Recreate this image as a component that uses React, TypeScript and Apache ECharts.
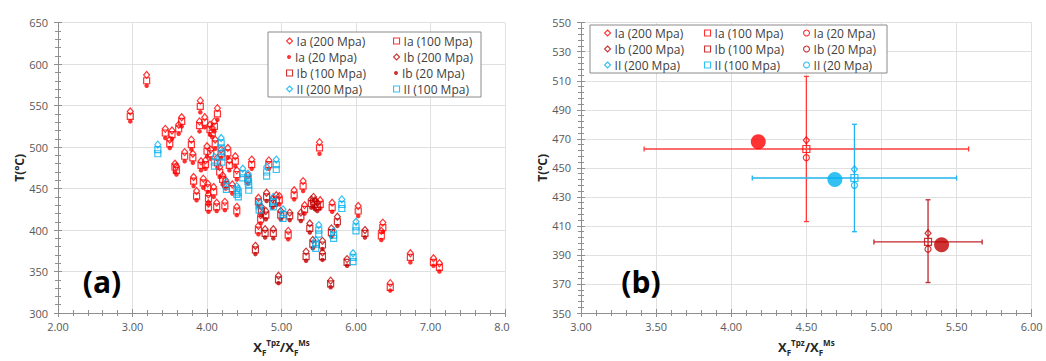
import React, { useEffect, useRef } from "react";
import * as echarts from "echarts";

// Each row: [X_F(Tpz)/X_F(Ms), T at 200 MPa, T at 100 MPa, T at 20 MPa]
type Row = [number, number, number, number];

const IA_ROWS: Row[] = [
  [2.97, 543, 537, 531], [3.19, 587, 580, 574], [3.44, 522, 517, 511], [3.5, 509, 504, 499],
  [3.53, 520, 515, 510], [3.57, 480, 476, 470], [3.59, 477, 472, 467], [3.62, 527, 522, 516],
  [3.66, 536, 531, 525], [3.7, 494, 489, 483], [3.79, 509, 503, 497], [3.81, 492, 487, 481],
  [3.82, 464, 459, 453], [3.86, 447, 441, 436], [3.9, 531, 526, 519], [3.91, 556, 549, 542],
  [3.92, 483, 478, 472], [3.95, 462, 457, 451], [3.97, 536, 530, 524], [3.98, 484, 479, 474],
  [4.0, 501, 495, 489], [4.01, 456, 451, 446], [4.02, 443, 438, 432], [4.02, 432, 427, 422],
  [4.04, 527, 521, 515], [4.05, 497, 492, 486], [4.07, 523, 517, 512], [4.09, 452, 446, 440],
  [4.1, 531, 525, 519], [4.11, 509, 504, 498], [4.13, 433, 428, 423], [4.14, 547, 540, 533],
  [4.14, 487, 481, 475], [4.17, 476, 470, 464], [4.19, 497, 492, 487], [4.21, 466, 461, 455],
  [4.24, 434, 429, 424], [4.25, 460, 455, 450], [4.28, 499, 493, 487], [4.3, 484, 478, 472],
  [4.34, 455, 450, 444], [4.38, 489, 483, 477], [4.4, 428, 423, 418], [4.4, 472, 467, 461],
  [4.55, 466, 461, 456], [4.6, 485, 479, 474], [4.69, 439, 434, 429], [4.69, 405, 400, 395],
  [4.72, 418, 413, 408], [4.83, 484, 479, 474], [4.93, 442, 436, 430], [4.97, 441, 436, 431],
  [5.09, 399, 394, 389], [5.17, 448, 442, 437], [5.29, 459, 453, 447], [5.31, 430, 425, 420],
  [5.51, 506, 499, 492], [5.52, 436, 431, 426], [5.68, 433, 427, 422], [6.03, 429, 423, 417],
  [6.34, 399, 393, 388], [6.36, 409, 403, 398], [6.46, 336, 331, 327], [6.73, 372, 367, 361],
  [7.04, 366, 361, 357], [7.12, 360, 355, 350],
];

const IB_ROWS: Row[] = [
  [4.65, 381, 376, 371], [4.73, 428, 423, 418], [4.78, 401, 396, 391], [4.8, 445, 440, 435],
  [4.79, 423, 418, 413], [4.89, 401, 396, 390], [4.88, 437, 432, 427], [4.96, 345, 340, 336],
  [4.99, 423, 418, 413], [5.11, 421, 417, 412], [5.26, 421, 416, 411], [5.33, 374, 368, 363],
  [5.38, 408, 402, 397], [5.4, 437, 432, 427], [5.42, 388, 383, 378], [5.43, 440, 434, 428],
  [5.45, 436, 431, 425], [5.48, 433, 428, 423], [5.55, 387, 382, 377], [5.55, 373, 368, 364],
  [5.66, 339, 335, 331], [5.67, 402, 397, 392], [5.75, 416, 410, 405], [5.88, 365, 361, 357],
  [6.12, 400, 396, 391],
];

const II_ROWS: Row[] = [
  [3.34, 503, 497, 492], [4.1, 488, 482, 477], [4.19, 511, 505, 499], [4.2, 494, 488, 482],
  [4.26, 458, 453, 449], [4.4, 453, 448, 443], [4.42, 450, 445, 440], [4.48, 474, 468, 463],
  [4.55, 468, 463, 458], [4.56, 460, 454, 448], [4.7, 434, 429, 424], [4.8, 476, 470, 465],
  [4.89, 440, 434, 428], [4.93, 485, 479, 473], [5.02, 425, 419, 414], [5.46, 388, 383, 378],
  [5.5, 406, 400, 395], [5.7, 399, 394, 390], [5.81, 437, 431, 426], [5.96, 372, 367, 362],
  [6.0, 410, 404, 399],
];

// Panel (b): group averages (order Ia, Ib, II)
const B_GROUPS = ["Ia", "Ib", "II"];
const B_X = [4.5, 5.31, 4.82];
const B_T200 = [469, 405, 449];
const B_T100 = [463, 399, 443];
const B_T20 = [457, 394, 438];
const B_X_LO = [3.42, 4.95, 4.14];
const B_X_HI = [5.58, 5.67, 5.5];
const B_T_LO = [413, 371, 406];
const B_T_HI = [513, 428, 480];
const B_MEAN_X = [4.18, 5.4, 4.69];
const B_MEAN_T = [468, 397, 442];

const A_X_TICKS = { min: 2, max: 8, interval: 1 };
const A_Y_TICKS = { min: 300, max: 650, interval: 50 };
const B_X_TICKS = { min: 3, max: 6, interval: 0.5 };
const B_Y_TICKS = { min: 350, max: 550, interval: 20 };

const RED = "#FF0000";
const DARK = "#C00000";
const BLUE = "#00B0F0";
const GROUP_COLORS = [RED, DARK, BLUE];
const ERR_COLORS = ["#FF3B3B", "#C0272D", "#1FB4EE"];
const FONT = '"Open Sans", "Liberation Sans", sans-serif';
const AXIS_COLOR = "#8F8F8F";
const GRID_COLOR = "#E0E0E0";

const hollow = (color: string) => ({ color: "transparent", borderColor: color, borderWidth: 1.2 });

function axes(
  dim: "x" | "y",
  gridIndex: number,
  t: { min: number; max: number; interval: number },
  fmt: (v: number) => string
) {
  const pos = dim === "x" ? "bottom" : "left";
  const main: any = {
    type: "value",
    gridIndex,
    position: pos,
    min: t.min,
    max: t.max,
    interval: t.interval,
    axisLine: { show: true, lineStyle: { color: AXIS_COLOR, width: 1 } },
    axisTick: { show: true, inside: false, length: 4, lineStyle: { color: AXIS_COLOR } },
    minorTick: { show: true, splitNumber: 5, length: 3, lineStyle: { color: AXIS_COLOR } },
    splitLine: { show: true, lineStyle: { color: GRID_COLOR, width: 1 } },
    axisLabel: {
      color: "#595959",
      fontSize: 11,
      fontFamily: FONT,
      margin: dim === "x" ? 8 : 10,
      formatter: fmt,
    },
  };
  if (dim === "y") {
    Object.assign(main, {
      name: "T(°C)",
      nameLocation: "middle",
      nameGap: 32,
      nameTextStyle: { fontSize: 12, fontWeight: "bold", fontFamily: FONT, color: "#262626" },
    });
  } else {
    Object.assign(main, {
      name: "{x|X}{sub|F}{sup|Tpz}{x|/X}{sub|F}{sup|Ms}",
      nameLocation: "middle",
      nameGap: 25,
      nameTextStyle: {
        rich: {
          x: { fontSize: 13, fontWeight: "bold", fontFamily: FONT, color: "#262626", lineHeight: 18 },
          sub: { fontSize: 8, fontWeight: "bold", fontFamily: FONT, color: "#262626", lineHeight: 8, verticalAlign: "bottom" },
          sup: { fontSize: 8, fontWeight: "bold", fontFamily: FONT, color: "#262626", lineHeight: 8, verticalAlign: "top" },
        },
      },
    });
  }
  // companion axis: inner half of the crossing tick marks
  const cross: any = {
    type: "value",
    gridIndex,
    position: pos,
    min: t.min,
    max: t.max,
    interval: t.interval,
    axisLine: { show: false },
    axisTick: { show: true, inside: true, length: 4, lineStyle: { color: AXIS_COLOR } },
    minorTick: { show: true, splitNumber: 5, length: 3, lineStyle: { color: AXIS_COLOR } },
    splitLine: { show: false },
    axisLabel: { show: false },
  };
  return [main, cross];
}

const PRESSURES = ["200", "100", "20"];

function scatterA(name: string, rows: Row[], col: number, symbol: string, size: any, style: any) {
  return {
    type: "scatter",
    name,
    xAxisIndex: 0,
    yAxisIndex: 0,
    symbol,
    symbolSize: size,
    itemStyle: style,
    data: rows.map((r) => [r[0], r[col]]),
    z: 3,
  };
}

export default function App() {
  const ref = useRef<HTMLDivElement>(null);

  useEffect(() => {
    document.body.style.margin = "0";
    if (!ref.current) return;
    const chart = echarts.init(ref.current, undefined, { renderer: "svg" });

    const fmt2 = (v: number) => v.toFixed(2);
    const fmt0 = (v: number) => String(v);
    const [ax, axc] = axes("x", 0, A_X_TICKS, fmt2);
    const [ay, ayc] = axes("y", 0, A_Y_TICKS, fmt0);
    const [bx, bxc] = axes("x", 1, B_X_TICKS, fmt2);
    const [by, byc] = axes("y", 1, B_Y_TICKS, fmt0);

    const seriesA = [
      scatterA("Ia (200 Mpa)", IA_ROWS, 1, "diamond", [6, 7], hollow(RED)),
      scatterA("Ia (100 Mpa)", IA_ROWS, 2, "rect", 6, hollow(RED)),
      scatterA("Ia (20 Mpa)", IA_ROWS, 3, "circle", 4.5, { color: RED }),
      scatterA("Ib (200 Mpa)", IB_ROWS, 1, "diamond", [6, 7], hollow(DARK)),
      scatterA("Ib (100 Mpa)", IB_ROWS, 2, "rect", 6, hollow(DARK)),
      scatterA("Ib (20 Mpa)", IB_ROWS, 3, "circle", 4.5, { color: DARK }),
      scatterA("II (200 Mpa)", II_ROWS, 1, "diamond", [6, 7], hollow(BLUE)),
      scatterA("II (100 Mpa)", II_ROWS, 2, "rect", 6, hollow(BLUE)),
      scatterA("II (20 Mpa)", II_ROWS, 3, "rect", 6, hollow(BLUE)),
    ];

    // Panel (b): error bars around the 100 MPa point of each group
    const errSeries = {
      type: "custom",
      xAxisIndex: 2,
      yAxisIndex: 2,
      z: 2,
      data: B_GROUPS.map((_, i) => [B_X[i], B_T100[i], B_X_LO[i], B_X_HI[i], B_T_LO[i], B_T_HI[i]]),
      renderItem: (params: any, api: any) => {
        const x = api.value(0), y = api.value(1);
        const l = api.coord([api.value(2), y]);
        const r = api.coord([api.value(3), y]);
        const b = api.coord([x, api.value(4)]);
        const t = api.coord([x, api.value(5)]);
        const cap = 2.5;
        const style = { stroke: ERR_COLORS[params.dataIndex], lineWidth: 1.3 };
        const seg = (x1: number, y1: number, x2: number, y2: number) => ({
          type: "line",
          shape: { x1, y1, x2, y2 },
          style,
        });
        return {
          type: "group",
          children: [
            seg(l[0], l[1], r[0], r[1]),
            seg(l[0], l[1] - cap, l[0], l[1] + cap),
            seg(r[0], r[1] - cap, r[0], r[1] + cap),
            seg(b[0], b[1], t[0], t[1]),
            seg(b[0] - cap, b[1], b[0] + cap, b[1]),
            seg(t[0] - cap, t[1], t[0] + cap, t[1]),
          ],
        };
      },
    };

    const seriesB: any[] = [errSeries];
    B_GROUPS.forEach((g, i) => {
      const c = GROUP_COLORS[i];
      const mk = (p: string, vals: number[], symbol: string, size: any) => ({
        type: "scatter",
        name: `b:${g} (${p} Mpa)`,
        xAxisIndex: 2,
        yAxisIndex: 2,
        symbol,
        symbolSize: size,
        itemStyle: hollow(c),
        data: [[B_X[i], vals[i]]],
        z: 3,
      });
      seriesB.push(mk("200", B_T200, "diamond", [6, 7]));
      seriesB.push(mk("100", B_T100, "rect", 7));
      seriesB.push(mk("20", B_T20, "circle", 6));
    });
    seriesB.push({
      type: "scatter",
      xAxisIndex: 2,
      yAxisIndex: 2,
      symbol: "circle",
      symbolSize: 15,
      z: 4,
      data: B_GROUPS.map((_, i) => ({ value: [B_MEAN_X[i], B_MEAN_T[i]], itemStyle: { color: GROUP_COLORS[i] } })),
    });

    // legend entries: one small legend per item, laid out on a fixed grid
    const legendItem = (name: string, cx: number, cy: number, strip: boolean) => {
      const dot = !strip && name.indexOf("(20 Mpa)") >= 0;
      const s = dot ? 4 : 6;
      return {
        data: [name],
        left: cx - s / 2,
        top: cy - 8,
        padding: 0,
        itemWidth: s,
        itemHeight: s,
        selectedMode: false,
        itemStyle: { borderWidth: dot ? 0 : 1.1 },
        formatter: strip ? (n: string) => n.slice(2) : undefined,
        textStyle: { fontSize: 12, fontFamily: FONT, color: "#404040", lineHeight: 16, padding: [0, 0, 0, -1] },
      };
    };

    const aNames = [
      "Ia (200 Mpa)", "Ia (100 Mpa)",
      "Ia (20 Mpa)", "Ib (200 Mpa)",
      "Ib (100 Mpa)", "Ib (20 Mpa)",
      "II (200 Mpa)", "II (100 Mpa)",
    ];
    const aCols = [289, 396];
    const aRows = [41, 57, 73, 89];
    const legends: any[] = aNames.map((n, k) => legendItem(n, aCols[k % 2], aRows[Math.floor(k / 2)], false));

    const bCols = [607, 707, 806];
    const bRows = [33, 49, 65];
    B_GROUPS.forEach((g, r) =>
      PRESSURES.forEach((p, c) => legends.push(legendItem(`b:${g} (${p} Mpa)`, bCols[c], bRows[r], true)))
    );

    chart.setOption({
      animation: false,
      backgroundColor: "#ffffff",
      grid: [
        { left: 58, top: 22.7, width: 447, height: 294.5 },
        { left: 581, top: 22.7, width: 450.7, height: 294.5 },
      ],
      xAxis: [ax, axc, bx, bxc],
      yAxis: [ay, ayc, by, byc],
      legend: legends,
      series: [...seriesA, ...seriesB],
      graphic: [
        { type: "rect", z: 3, shape: { x: 268, y: 32, width: 213, height: 65 }, style: { fill: "#fff", stroke: "#8A8A8A", lineWidth: 1 } },
        { type: "rect", z: 3, shape: { x: 590, y: 25, width: 297, height: 48 }, style: { fill: "#fff", stroke: "#8A8A8A", lineWidth: 1 } },
        { type: "rect", z: 100, shape: { x: 510, y: 320, width: 25, height: 25 }, style: { fill: "#fff" } },
        { type: "text", z: 100, x: 102, y: 281, style: { text: "(a)", fontSize: 30, fontWeight: "bold", fontFamily: FONT, fill: "#000", align: "center", verticalAlign: "middle" } },
        { type: "text", z: 100, x: 641, y: 281, style: { text: "(b)", fontSize: 30, fontWeight: "bold", fontFamily: FONT, fill: "#000", align: "center", verticalAlign: "middle" } },
      ],
    });

    return () => chart.dispose();
  }, []);

  return <div ref={ref} style={{ width: 1046, height: 361 }} />;
}
